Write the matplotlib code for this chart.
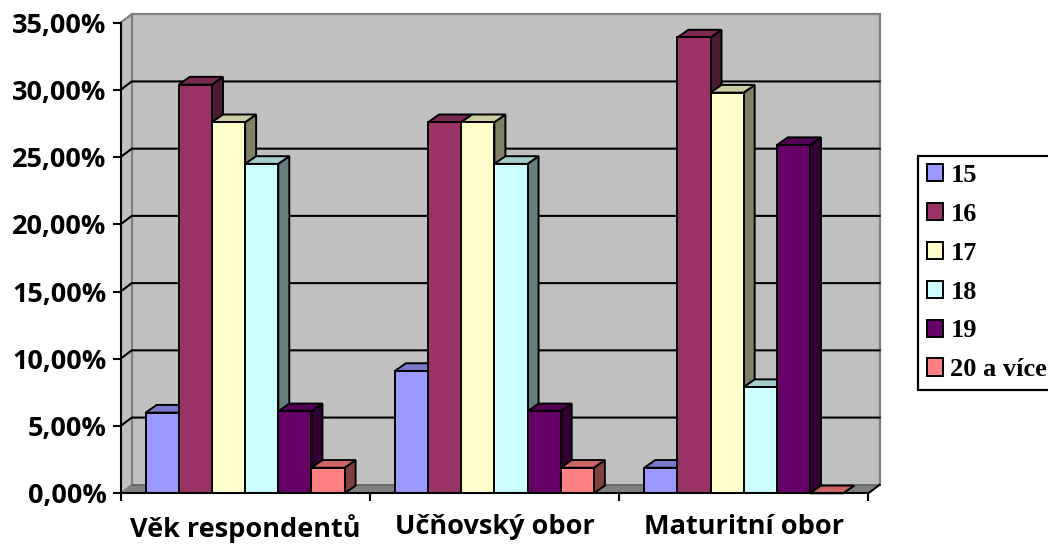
import numpy as np
import matplotlib
matplotlib.use('Agg')
import matplotlib.pyplot as plt
from matplotlib.patches import Polygon, Patch
from matplotlib.colors import to_rgb
from matplotlib.ticker import FuncFormatter, FixedLocator

# Data (percent)
kategorie = ['Věk respondentů', 'Učňovský obor', 'Maturitní obor']
vek = ['15', '16', '17', '18', '19', '20 a více']
v15 = [6.0, 9.1, 1.9]
v16 = [30.4, 27.6, 33.9]
v17 = [27.6, 27.6, 29.8]
v18 = [24.5, 24.5, 7.9]
v19 = [6.1, 6.1, 25.9]
v20 = [1.9, 1.9, 0.0]
hodnoty = [v15, v16, v17, v18, v19, v20]
barvy = ['#9999FF', '#993366', '#FFFFCC', '#CCFFFF', '#660066', '#FF8080']

W, H = 1048, 545
L, R, B, T = 120.5, 868.3, 493.3, 22.7   # front plane in pixels
fig = plt.figure(figsize=(W / 100, H / 100), dpi=100)
ax = fig.add_axes([L / W, (H - B) / H, (R - L) / W, (B - T) / H])
ax.set_xlim(0, 3)
ax.set_ylim(0, 35)
ax.patch.set_visible(False)

# pixel -> data conversion for the fake depth
sx = (R - L) / 3
sy = (B - T) / 35
wdx, wdy = 11.3 / sx, 8.5 / sy     # wall depth
bdx, bdy = 11.0 / sx, 7.7 / sy     # bar depth

def tmavsi(c, f):
    r, g, b = to_rgb(c)
    return (r * f, g * f, b * f)

# walls and floor
ax.add_patch(Polygon([(wdx, wdy), (3 + wdx, wdy), (3 + wdx, 35 + wdy), (wdx, 35 + wdy)],
                     closed=True, fc='#C0C0C0', ec='none', zorder=0, clip_on=False))
ax.add_patch(Polygon([(0, 0), (wdx, wdy), (wdx, 35 + wdy), (0, 35)],
                     closed=True, fc='#C0C0C0', ec='none', zorder=0, clip_on=False))
ax.add_patch(Polygon([(0, 0), (3, 0), (3 + wdx, wdy), (wdx, wdy)],
                     closed=True, fc='#808080', ec='none', zorder=0.5, clip_on=False))
ax.plot([wdx, wdx, 3 + wdx, 3 + wdx], [wdy, 35 + wdy, 35 + wdy, wdy], color='#808080', lw=1.6,
        zorder=0.6, clip_on=False, solid_joinstyle='miter')
ax.plot([0, wdx], [35, 35 + wdy], color='#808080', lw=1.6, zorder=0.6, clip_on=False)
ax.plot([0, wdx], [0, wdy], color='#808080', lw=1.2, zorder=0.6, clip_on=False)
ax.plot([wdx, 3 + wdx], [wdy, wdy], color='#606060', lw=1.2, zorder=0.6, clip_on=False)
for k in range(5, 35, 5):
    ax.plot([0, wdx, 3 + wdx], [k, k + wdy, k + wdy], color='black', lw=1.5, zorder=0.7, clip_on=False)
ax.plot([3, 3 + wdx], [0, wdy], color='black', lw=1.5, zorder=0.8, clip_on=False)

# bars
sirka = 0.133
start = (1 - sirka * len(vek)) / 2
for j in range(len(kategorie)):
    for i, (vals, c) in enumerate(zip(hodnoty, barvy)):
        v = vals[j]
        x0 = j + start + i * sirka
        z = 2 + i * 0.1
        ax.add_patch(Polygon([(x0 + sirka, 0), (x0 + sirka, v), (x0 + sirka + bdx, v + bdy), (x0 + sirka + bdx, bdy)],
                             closed=True, fc=tmavsi(c, 0.5), ec='black', lw=1.4, zorder=z, clip_on=False,
                             joinstyle='miter'))
        ax.add_patch(Polygon([(x0, v), (x0 + sirka, v), (x0 + sirka + bdx, v + bdy), (x0 + bdx, v + bdy)],
                             closed=True, fc=tmavsi(c, 0.8), ec='black', lw=1.4, zorder=z + 0.01, clip_on=False,
                             joinstyle='miter'))
        ax.bar(x0, v, width=sirka, align='edge', color=c, edgecolor='black', linewidth=1.4,
               zorder=z + 0.02, clip_on=False)

# axes
for s in ['top', 'right']:
    ax.spines[s].set_visible(False)
for s in ['left', 'bottom']:
    ax.spines[s].set_color('black')
    ax.spines[s].set_linewidth(1.5)
    ax.spines[s].set_zorder(5)
ax.set_yticks(np.arange(0, 36, 5))
ax.yaxis.set_major_formatter(FuncFormatter(lambda y, p: f'{y:.2f}'.replace('.', ',') + '%'))
ax.tick_params(axis='y', length=6, width=1.5, pad=4, direction='out')
ax.xaxis.set_major_locator(FixedLocator([0.5, 1.5, 2.5]))
ax.set_xticklabels(kategorie)
ax.xaxis.set_minor_locator(FixedLocator([0, 1, 2, 3]))
ax.tick_params(axis='x', which='major', length=0, pad=15)
ax.tick_params(axis='x', which='minor', length=6, width=1.5, direction='out')
for lab in ax.get_yticklabels() + ax.get_xticklabels():
    lab.set_fontfamily('Open Sans')
    lab.set_fontweight('bold')
    lab.set_fontsize(19.5)

# legend
handles = [Patch(facecolor=c, edgecolor='black', linewidth=1.4) for c in barvy]
leg = ax.legend(handles, vek, loc='upper left', bbox_to_anchor=(918.3 / W, 1 - 155.7 / H),
                bbox_transform=fig.transFigure, borderaxespad=0, fancybox=False, framealpha=1,
                edgecolor='black', prop={'family': 'Liberation Serif', 'weight': 'bold', 'size': 19},
                handlelength=0.62, handleheight=0.62, handletextpad=0.28, labelspacing=0.6,
                borderpad=0.32)
leg.get_frame().set_linewidth(1.6)

fig.savefig('out.png', dpi=100)
